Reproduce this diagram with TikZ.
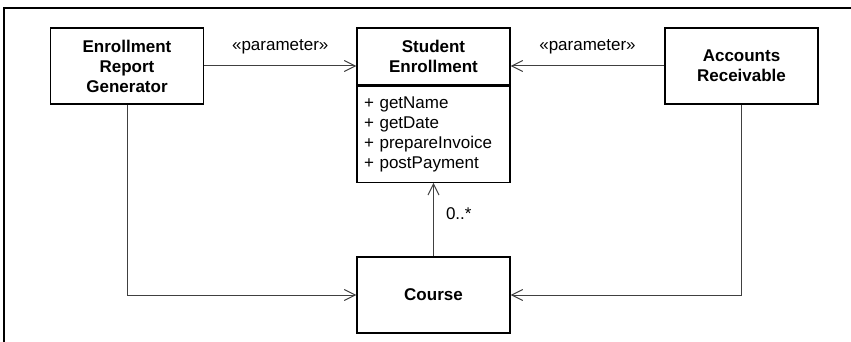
\documentclass[tikz,border=0pt]{standalone}
\usepackage{fontspec}
\setmainfont{Liberation Sans}
\usetikzlibrary{arrows.meta,positioning}
\tikzset{
  cbox/.style={draw=black,line width=0.65pt,minimum width=76.5pt,minimum height=38pt,align=center,font=\fontsize{8.5}{10}\selectfont\bfseries,inner sep=2pt},
  nbox/.style={draw=black,line width=0.65pt,minimum width=76.5pt,minimum height=28.5pt,align=center,font=\fontsize{8.5}{10}\selectfont\bfseries,inner sep=2pt},
  obox/.style={draw=black,line width=0.65pt,minimum width=76.5pt,minimum height=48pt,text width=69.5pt,align=left,inner xsep=3.5pt,inner ysep=2pt},
  dep/.style={-{Straight Barb[length=5.5pt,width=5.5pt,line width=0.5pt]},black!75,line width=0.5pt},
  lbl/.style={inner sep=0pt,text=black},
}

\begin{document}
\begin{tikzpicture}[x=0.5pt,y=-0.5pt,font=\fontsize{8.5}{10}\selectfont]
    \useasboundingbox (0,0) rectangle (851,342);
    %% frame
    \draw[line width=1.4pt,line join=miter] (4,342) -- (4,8) -- (851,8);
    %% classes
    \node[cbox] (report)  at (127,66)   {Enrollment\\Report\\Generator};
    \node[nbox] (student) at (433.5,56.5) {Student\\Enrollment};
    \node[obox,below=0pt of student] (ops) {+ getName\\+ getDate\\+ prepareInvoice\\+ postPayment};
    \node[cbox] (accounts) at (741.5,66) {Accounts\\Receivable};
    \node[cbox] (course)  at (433.5,295) {Course};
    %% dependencies
    \draw[dep] (report.east) -- node[lbl,above=5.5pt]{«parameter»} (report.east -| student.west);
    \draw[dep] (accounts.west) -- node[lbl,above=5.5pt]{«parameter»} (accounts.west -| student.east);
    %% associations
    \draw[dep] (report.south) |- (course.west);
    \draw[dep] (accounts.south) |- (course.east);
    \draw[dep] (course.north) -- node[lbl,pos=0.58,right=6pt]{0..*} (ops.south);
\end{tikzpicture}
\end{document}
